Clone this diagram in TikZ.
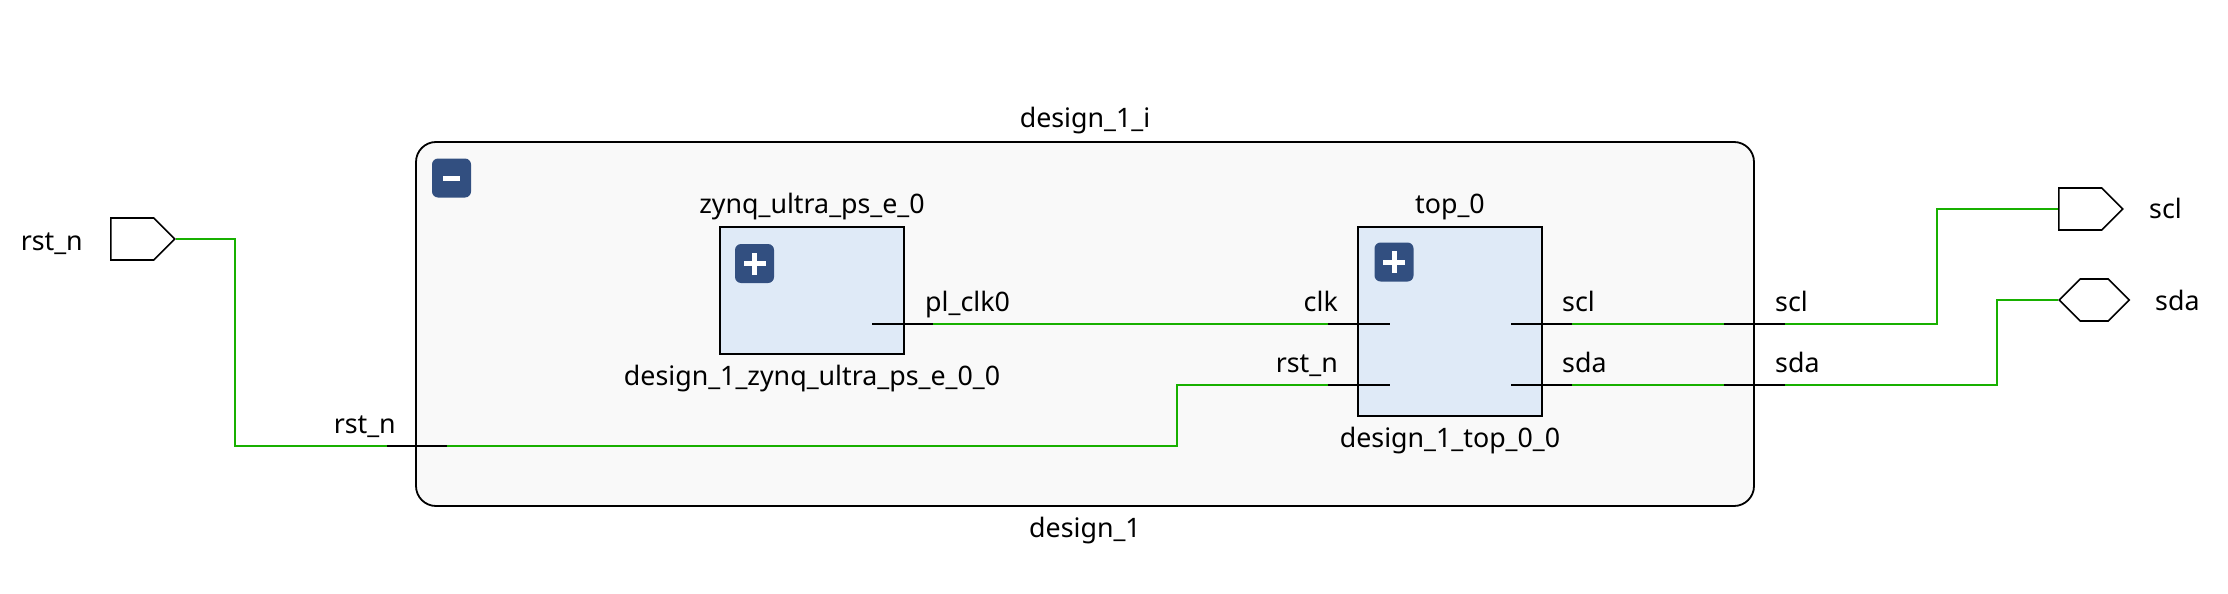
\documentclass[tikz,border=0pt]{standalone}
\usepackage{fontspec}
\setmainfont{Noto Sans}
\usepackage{tikz}
\usetikzlibrary{shapes.symbols}
\definecolor{netgreen}{RGB}{24,176,0}
\definecolor{btnblue}{RGB}{50,79,128}
\definecolor{ipfill}{RGB}{223,234,247}
\definecolor{hierfill}{RGB}{249,249,249}

\begin{document}
\begin{tikzpicture}[x=1pt,y=-1pt,
    every node/.style={font=\fontsize{26.8}{31}\selectfont,inner sep=0pt},
    txt/.style={anchor=base},
    hier/.style={draw,line width=1.8pt,fill=hierfill,rounded corners=20pt},
    ip/.style={draw,line width=1.8pt,fill=ipfill},
    btn/.style={fill=btnblue,rounded corners=6pt,minimum size=39pt},
    port/.style={draw,line width=1.6pt,signal,signal pointer angle=90,minimum height=42pt},
    net/.style={netgreen,line width=1.6pt},
    pin/.style={line width=1.6pt}]
        \useasboundingbox (0,0) rectangle (2228,594);
        \node[hier,minimum width=1338pt,minimum height=364pt] (design1) at (1085,324) {};
        \node[txt] (design1i) at (1085,128) {design\_1\_i};
        \node[txt] (design1name) at (1085,537) {design\_1};
        \node[btn] (hminus) at (451.5,178) {};
        \fill[white] ([xshift=-8.5pt,yshift=-2.5pt]hminus.center) rectangle ++(17pt,5pt);
        \node[ip,minimum width=184pt,minimum height=127pt] (zynq) at (812,290.5) {};
        \node[txt] (zynqname) at (812,213) {zynq\_ultra\_ps\_e\_0};
        \node[txt] (zynqmod) at (812,385) {design\_1\_zynq\_ultra\_ps\_e\_0\_0};
        \node[btn] (zplus) at (754.5,263.5) {};
        \node[ip,minimum width=184pt,minimum height=189pt] (top) at (1450,321.5) {};
        \node[txt] (topname) at (1450,213) {top\_0};
        \node[txt] (topmod) at (1450,447) {design\_1\_top\_0\_0};
        \node[btn] (tplus) at (1394,262) {};
        \foreach \b in {zplus,tplus} {
          \fill[white] ([xshift=-11pt,yshift=-2.5pt]\b.center) rectangle ++(22pt,5pt);
          \fill[white] ([xshift=-2.5pt,yshift=-11pt]\b.center) rectangle ++(5pt,22pt);
        }
        \node[port,minimum width=64pt,anchor=west] (rstin) at (110,239) {};
        \node[port,minimum width=64pt,anchor=west] (sclout) at (2058,209) {};
        \node[port,minimum width=70pt,signal to=east and west,anchor=west] (sdaio) at (2058,300) {};
        \node[anchor=base east] (rstinlabel) at (83,250) {rst\_n};
        \node[anchor=base west] (scloutlabel) at (2149,218) {scl};
        \node[anchor=base west] (sdaiolabel) at (2155,310) {sda};
        \coordinate (zclk) at (933,324);
        \coordinate (tclk) at (1328,324);
        \coordinate (trst) at (1328,385);
        \coordinate (tscl) at (1572,324);
        \coordinate (tsda) at (1572,385);
        \coordinate (hrstin) at (387,446);
        \coordinate (hrst) at (447,446);
        \coordinate (hsclin) at (1724,324);
        \coordinate (hscl) at (1785,324);
        \coordinate (hsdain) at (1724,385);
        \coordinate (hsda) at (1785,385);
        \foreach \p in {zclk,tscl,tsda,hrst,hscl,hsda}
          \draw[pin] (\p) -- ++(-61,0);
        \foreach \p in {tclk,trst}
          \draw[pin] (\p) -- ++(62,0);
        \node[anchor=base west] (plclklabel) at (925,311) {pl\_clk0};
        \node[anchor=base east] (clklabel) at (1338,311) {clk};
        \node[anchor=base east] (rstlabel) at (1338,372) {rst\_n};
        \node[anchor=base west] (scllabel) at (1562,311) {scl};
        \node[anchor=base west] (sdalabel) at (1562,372) {sda};
        \node[anchor=base east] (hrstlabel) at (396,433) {rst\_n};
        \node[anchor=base west] (hscllabel) at (1775,311) {scl};
        \node[anchor=base west] (hsdalabel) at (1775,372) {sda};
        \draw[net] (rstin.east) -| (235,446) -- (hrstin);
        \draw[net] (hrst) -- (1177,446) |- (trst);
        \draw[net] (zclk) -- (tclk);
        \draw[net] (tscl) -- (hsclin);
        \draw[net] (tsda) -- (hsdain);
        \draw[net] (hscl) -- (1937,324) |- (sclout.west);
        \draw[net] (hsda) -- (1997,385) |- (sdaio.west);
\end{tikzpicture}
\end{document}
